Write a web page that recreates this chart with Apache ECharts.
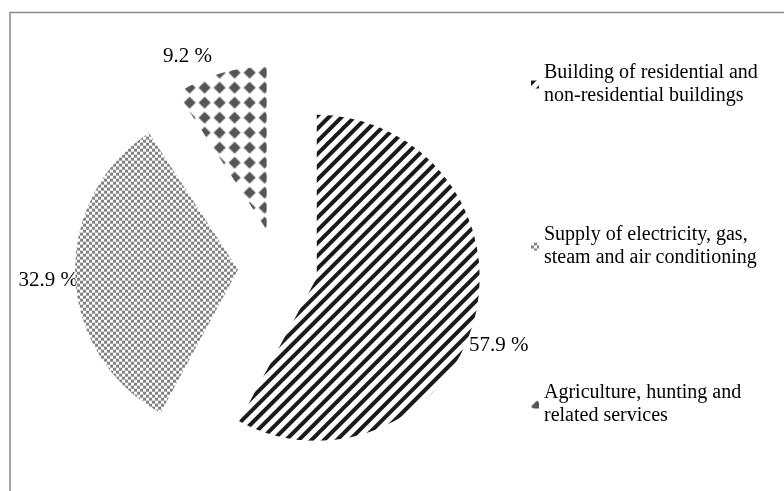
<!DOCTYPE html>
<html>
<head>
<meta charset="utf-8">
<title>Pie</title>
<script src="https://cdn.jsdelivr.net/npm/echarts@6.0.0/dist/echarts.min.js"></script>
<style>
  html, body { margin: 0; padding: 0; background: #fff; }
  #main { width: 784px; height: 491px; }
</style>
</head>
<body>
<div id="main"></div>
<script>
// data
var categories = [
  'Building of residential and\nnon-residential buildings',
  'Supply of electricity, gas,\nsteam and air conditioning',
  'Agriculture, hunting and\nrelated services'
];
var shares = [57.9, 32.9, 9.2];

// where the % labels sit (text only): x, y, align
var labelPos = [[469, 345, 'left'], [78, 280, 'right'], [163, 56, 'left']];
// top of each legend block
var legendTops = [50, 212, 370];

var FONT = '"Liberation Serif", "Times New Roman", serif';

// fill patterns
var decals = [
  { // black diagonal stripes
    symbol: 'rect', symbolSize: 1,
    dashArrayX: [1, 0], dashArrayY: [4, 5],
    rotation: -Math.PI / 4,
    color: '#1a1a1a'
  },
  { // grey checker
    symbol: 'rect', symbolSize: 1,
    dashArrayX: [[3, 3], [0, 3, 3, 0]], dashArrayY: [3, 0],
    color: '#808080'
  },
  { // dark diamonds
    symbol: 'diamond', symbolSize: 1,
    dashArrayX: [12, 3], dashArrayY: [12, 3],
    color: '#555555'
  }
];

var pieData = categories.map(function (name, i) {
  return {
    name: name,
    value: shares[i],
    selected: true,
    itemStyle: { color: '#ffffff', decal: decals[i] }
  };
});

var legends = categories.map(function (name, i) {
  return {
    data: [name],
    orient: 'vertical',
    left: 531,
    top: legendTops[i],
    padding: 0,
    itemWidth: 8,
    itemHeight: 8,
    icon: 'rect',
    selectedMode: false,
    textStyle: {
      fontFamily: FONT,
      fontSize: 20,
      lineHeight: 23,
      color: '#000',
      padding: [23, 0, 0, 0]
    }
  };
});

// percentage labels, text taken from the values
var labels = shares.map(function (v, i) {
  var p = labelPos[i];
  return {
    type: 'text',
    x: p[0],
    y: p[1],
    silent: true,
    style: {
      text: v.toFixed(1) + ' %',
      font: '21px ' + FONT,
      fill: '#000',
      align: p[2],
      verticalAlign: 'middle'
    }
  };
});

var myChart = echarts.init(document.getElementById('main'));
myChart.setOption({
  animation: false,
  backgroundColor: '#fff',
  legend: legends,
  graphic: [{
    type: 'rect',
    shape: { x: 10, y: 12.5, width: 800, height: 500 },
    style: { fill: 'none', stroke: '#8a8a8a', lineWidth: 1.5 },
    silent: true
  }].concat(labels),
  series: [{
    type: 'pie',
    center: [278, 268],
    radius: 163,
    startAngle: 90,
    clockwise: true,
    selectedMode: 'multiple',
    selectedOffset: 40,
    emphasis: { disabled: true },
    itemStyle: { borderWidth: 0 },
    label: { show: false },
    labelLine: { show: false },
    data: pieData
  }]
});
</script>
</body>
</html>
